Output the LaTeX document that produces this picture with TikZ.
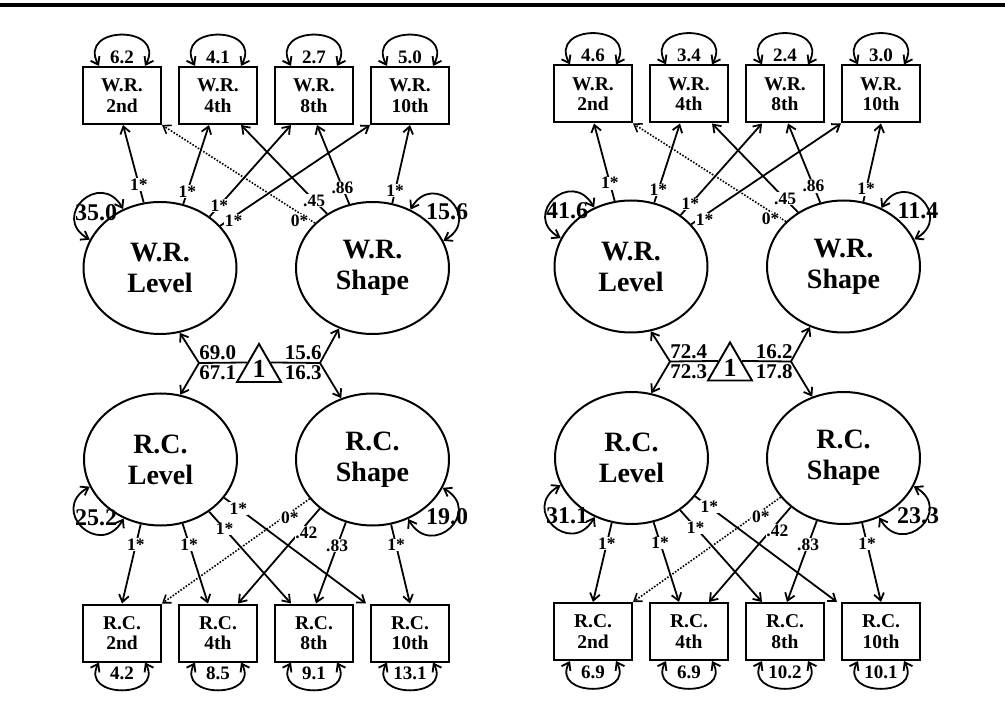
\documentclass[tikz,border=0pt]{standalone}
\usepackage{fontspec}
\setmainfont{Liberation Serif}
\usetikzlibrary{shapes.geometric,arrows.meta,calc}

\newcommand{\bfsz}[1]{\fontsize{#1}{#1}\selectfont\bfseries}

\tikzset{
  arr/.style={line width=1.8pt, ->},
  dotarr/.style={line width=1.6pt, ->, dash pattern=on 1.6pt off 1.6pt},
  varloop/.style={line width=1.8pt, <->},
  obs/.style={draw, line width=2pt, minimum width=78pt, minimum height=57pt,
    inner sep=0pt, align=center, font={\fontsize{19.5}{20.5}\selectfont\bfseries}},
  lat/.style={draw, ellipse, line width=2pt, minimum width=153pt, minimum height=132pt,
    inner sep=0pt, align=center, font={\fontsize{28}{31}\selectfont\bfseries}},
  ld/.style={fill=white, inner sep=0.6pt, font=\bfsz{17.5}},
  ev/.style={inner sep=0pt, font=\bfsz{19}},
  lv/.style={inner sep=0pt, font=\bfsz{24}},
  mn/.style={inner sep=2pt, font=\bfsz{21}},
  onetri/.style={draw, regular polygon, regular polygon sides=3, line width=1.9pt,
    minimum size=50.8pt, inner sep=0pt, font=\bfsz{26}},
}

% One latent growth model: #1 name prefix, #2/#3 offset of the panel
\newcommand{\sempanel}[3]{%
  % word reading measures with residual variances
  \foreach \val/\ord [count=\n] in \topvals {
    \node[obs] (#1t\n) at ({#2+122+96*(\n-1)},{#3-95.5}) {W.R.\\\ord};
    \draw[varloop] ($(#1t\n.north)+(-23,0)$) to[out=118,in=62,looseness=2.6] ($(#1t\n.north)+(23,0)$);
    \node[ev] (#1te\n) at ($(#1t\n.north)+(0,9)$) {\val};
  }
  % reading comprehension measures with residual variances
  \foreach \val/\ord [count=\n] in \botvals {
    \node[obs] (#1b\n) at ({#2+122+96*(\n-1)},{#3-633}) {R.C.\\\ord};
    \draw[varloop] ($(#1b\n.south)+(-23,0)$) to[out=-118,in=-62,looseness=2.3] ($(#1b\n.south)+(23,0)$);
    \node[ev] (#1be\n) at ($(#1b\n.south)+(0,-11)$) {\val};
  }
  % growth factors
  \node[lat] (#1wl) at ({#2+160},{#3-268}) {W.R.\\Level};
  \node[lat] (#1ws) at ({#2+372.5},{#3-268}) {W.R.\\Shape};
  \node[lat] (#1rl) at ({#2+160.5},{#3-459.5}) {R.C.\\Level};
  \node[lat] (#1rs) at ({#2+372.5},{#3-459.5}) {R.C.\\Shape};
  % factor variances
  \draw[varloop] (#1wl.122.4) to[out=120,in=150,looseness=2.6] (#1wl.158.7);
  \node[lv] (#1vwl) at ({#2+96},{#3-212.5}) {\vwl};
  \draw[varloop] (#1ws.57.6) to[out=60,in=30,looseness=2.6] (#1ws.21.3);
  \node[lv] (#1vws) at ({#2+447},{#3-212}) {\vws};
  \draw[varloop] (#1rl.238.3) to[out=240,in=210,looseness=2.6] (#1rl.201.5);
  \node[lv] (#1vrl) at ({#2+96},{#3-517.5}) {\vrl};
  \draw[varloop] (#1rs.301.7) to[out=300,in=330,looseness=2.6] (#1rs.338.5);
  \node[lv] (#1vrs) at ({#2+447},{#3-517}) {\vrs};
  % word reading loadings
  \draw[arr] (#1wl.104.4) -- node[ld,pos=.23] (#1a1) {1*} ($(#1t1.south)+(1,0)$);
  \draw[arr] (#1wl.70.5) -- node[ld,pos=.16] (#1a2) {1*} ($(#1t2.south)+(-9,0)$);
  \draw[arr] (#1wl.46.6) -- node[ld,pos=.12] (#1a3) {1*} ($(#1t3.south west)+(17,0)$);
  \draw[arr] (#1wl.35.5) -- node[ld,pos=.09,yshift=-4] (#1a4) {1*} (#1t4.south west);
  \draw[dotarr] (#1ws.142.9) -- node[ld,pos=.1,yshift=-7] (#1a5) {0*} (#1t1.south east);
  \draw[arr] (#1ws.130.8) -- node[ld,pos=.15] (#1a6) {.45} ($(#1t2.south)+(23,0)$);
  \draw[arr] (#1ws.110.6) -- node[ld,pos=.21] (#1a7) {.86} ($(#1t3.south)+(3,0)$);
  \draw[arr] (#1ws.73.8) -- node[ld,pos=.16] (#1a8) {1*} (#1t4.south);
  % reading comprehension loadings
  \draw[arr] (#1rl.253.4) -- node[ld,pos=.26] (#1c1) {1*} (#1b1.north);
  \draw[arr] (#1rl.-71) -- node[ld,pos=.26] (#1c2) {1*} ($(#1b2.north)+(-10,0)$);
  \draw[arr] (#1rl.-47.9) -- node[ld,pos=.19] (#1c3) {1*} ($(#1b3.north west)+(17,0)$);
  \draw[arr] (#1rl.-31.8) -- node[ld,pos=.1] (#1c4) {1*} ($(#1b4.north west)+(-4,0)$);
  \draw[dotarr] (#1rs.-148.2) -- node[ld,pos=.135,yshift=-5] (#1c5) {0*} (#1b1.north east);
  \draw[arr] (#1rs.-137.2) -- node[ld,pos=.25,xshift=7] (#1c6) {.42} ($(#1b2.north)+(20,0)$);
  \draw[arr] (#1rs.-113.7) -- node[ld,pos=.29] (#1c7) {.83} ($(#1b3.north)+(2,0)$);
  \draw[arr] (#1rs.-74.1) -- node[ld,pos=.26] (#1c8) {1*} (#1b4.north);
  % mean structure
  \node[onetri] (#1tri) at ({#2+259},{#3-369.3}) {1};
  \coordinate (#1lj) at ({#2+199},{#3-363});
  \coordinate (#1rj) at ({#2+320},{#3-363});
  \draw[line width=1.8pt] (#1lj) -- node[mn,above,pos=.39] (#1m1) {\mwl} node[mn,below,pos=.39] (#1m2) {\mrl} (#1tri.side 1);
  \draw[line width=1.8pt] (#1tri.side 3) -- node[mn,above,pos=.66] (#1m3) {\mws} node[mn,below,pos=.66] (#1m4) {\mrs} (#1rj);
  \draw[arr] (#1lj) -- (#1wl.-73.4);
  \draw[arr] (#1lj) -- (#1rl.73.1);
  \draw[arr] (#1rj) -- (#1ws.-119);
  \draw[arr] (#1rj) -- (#1rs.117.4);
}

\begin{document}
\begin{tikzpicture}[x=1pt, y=1pt, >={Straight Barb[length=7pt,width=10pt]}]
  \useasboundingbox (0,0) rectangle (1005,-719);
  \fill (0,-3) rectangle (1005,-7.5);

  % first model
  \def\topvals{6.2/2nd,4.1/4th,2.7/8th,5.0/10th}
  \def\botvals{4.2/2nd,8.5/4th,9.1/8th,13.1/10th}
  \def\vwl{35.0}\def\vws{15.6}\def\vrl{25.2}\def\vrs{19.0}
  \def\mwl{69.0}\def\mrl{67.1}\def\mws{15.6}\def\mrs{16.3}
  \sempanel{L}{0}{0}

  % second model
  \def\topvals{4.6/2nd,3.4/4th,2.4/8th,3.0/10th}
  \def\botvals{6.9/2nd,6.9/4th,10.2/8th,10.1/10th}
  \def\vwl{41.6}\def\vws{11.4}\def\vrl{31.1}\def\vrs{23.3}
  \def\mwl{72.4}\def\mrl{72.3}\def\mws{16.2}\def\mrs{17.8}
  \sempanel{R}{471}{1.5}
\end{tikzpicture}
\end{document}
